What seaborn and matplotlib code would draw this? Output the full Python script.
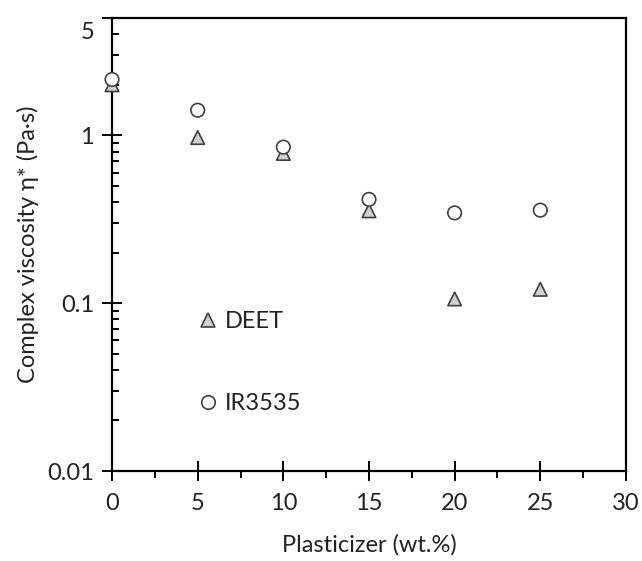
import matplotlib
matplotlib.use("Agg")
import matplotlib.pyplot as plt
import matplotlib.ticker as mticker
import matplotlib.transforms as mtransforms
import seaborn as sns
import pandas as pd

plasticizer_wt = [0, 5, 10, 15, 20, 25]
deet_viscosity = [2.0, 0.97, 0.78, 0.355, 0.106, 0.121]
ir3535_viscosity = [2.15, 1.41, 0.85, 0.415, 0.345, 0.358]
series_names = ["DEET", "IR3535"]
x_ticks = [0, 5, 10, 15, 20, 25, 30]
y_ticks = [0.01, 0.1, 1, 5]
y_tick_labels = ["0.01", "0.1", "1", "5"]

df = pd.DataFrame({
    "x": plasticizer_wt * 2,
    "y": deet_viscosity + ir3535_viscosity,
    "series": [series_names[0]] * len(plasticizer_wt) + [series_names[1]] * len(plasticizer_wt),
})

sns.set_theme(style="ticks")
plt.rcParams["font.family"] = ["Lato", "DejaVu Sans"]

fig = plt.figure(figsize=(6.42, 5.61), dpi=100)
ax = fig.add_axes([0.1745, 0.1604, 0.8005, 0.8076])

sns.scatterplot(
    data=df, x="x", y="y", hue="series", style="series",
    hue_order=series_names, style_order=series_names,
    palette={"DEET": "#d0d0d0", "IR3535": "white"},
    markers={"DEET": "^", "IR3535": "o"},
    s=95, edgecolor="#404040", linewidth=1.2, ax=ax, zorder=3, clip_on=False,
)

ax.set_yscale("log")
ax.set_xlim(0, 30)
ax.set_ylim(0.01, 5)
ax.set_xticks(x_ticks)
ax.set_xticklabels([str(t) for t in x_ticks])
ax.xaxis.set_minor_locator(mticker.MultipleLocator(2.5))
ax.set_yticks(y_ticks)
ax.set_yticklabels(y_tick_labels)
ax.yaxis.set_minor_locator(mticker.LogLocator(base=10, subs=[2, 3, 4, 5, 6, 7, 8, 9]))
ax.yaxis.set_minor_formatter(mticker.NullFormatter())

for sp in ax.spines.values():
    sp.set_linewidth(1.6)
    sp.set_color("black")

ax.tick_params(axis="both", which="major", direction="inout", length=14, width=1.4,
               color="black", labelsize=17, labelcolor="#222222", left=True, bottom=True)
ax.tick_params(axis="x", which="minor", direction="out", length=5, width=1.4, color="black", bottom=True)
ax.tick_params(axis="y", which="minor", direction="in", length=5, width=1.4, color="black", left=True)
ax.tick_params(axis="x", which="major", pad=9)
ax.tick_params(axis="y", which="major", pad=6)

# the top label sits a little below its tick, as in the original
for lbl in ax.get_yticklabels():
    if lbl.get_text() == "5":
        lbl.set_transform(lbl.get_transform() + mtransforms.ScaledTranslation(0, -9 / 72, fig.dpi_scale_trans))

ax.set_xlabel("Plasticizer (wt.%)", fontsize=17, color="#222222", labelpad=14)
ax.set_ylabel("Complex viscosity η* (Pa·s)", fontsize=17, color="#222222", labelpad=6)

handles, labels = ax.get_legend_handles_labels()
ax.legend(handles, labels, loc="lower left", bbox_to_anchor=(0.113, 0.078), frameon=False,
          fontsize=17, labelspacing=2.6, handletextpad=0.0, handlelength=1.4,
          labelcolor="#222222")

fig.savefig("out.png", dpi=100)
